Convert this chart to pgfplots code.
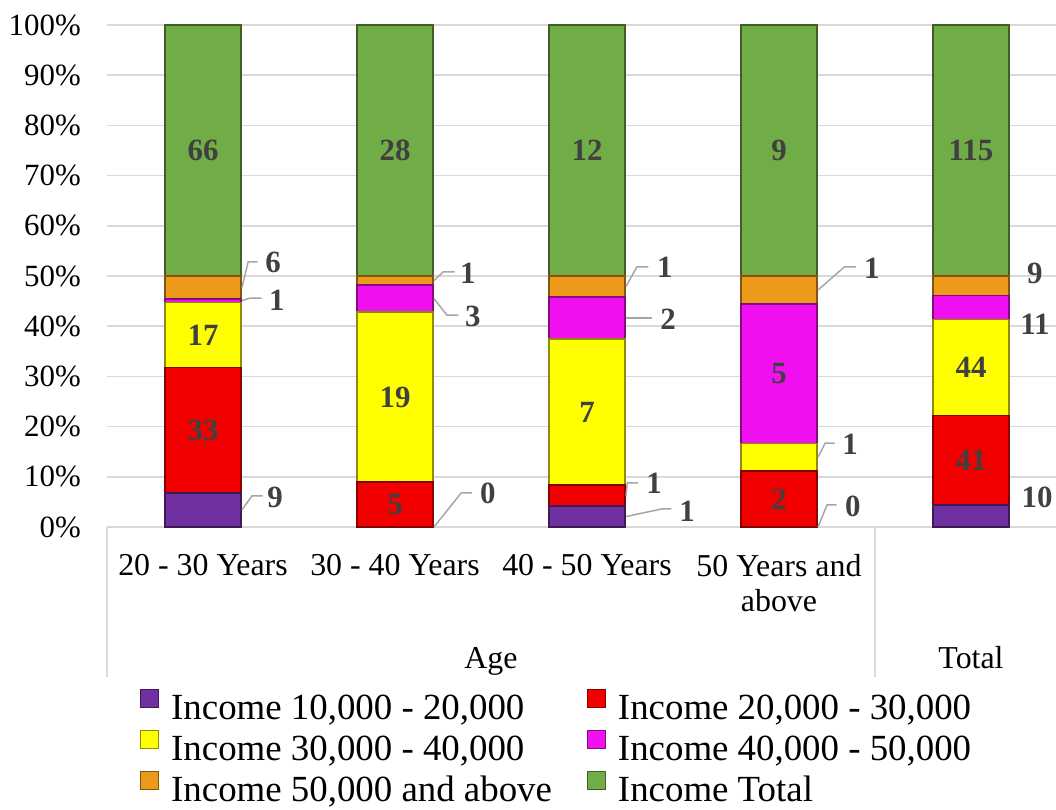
\documentclass[border=0pt]{standalone}
\usepackage{fontspec}
\setmainfont{Liberation Serif}
\usepackage{pgfplots}
\usepackage{pgfplotstable}
\pgfplotsset{compat=1.18}
\definecolor{cPur}{HTML}{7030A0}
\definecolor{cRed}{HTML}{F20000}
\definecolor{cYel}{HTML}{FFFF00}
\definecolor{cMag}{HTML}{F010F0}
\definecolor{cOra}{HTML}{ED9A1A}
\definecolor{cGre}{HTML}{70AD47}
\definecolor{gridgray}{HTML}{D9D9D9}
\definecolor{leadgray}{HTML}{A6A6A6}
\definecolor{labgray}{HTML}{404040}
\pgfplotstableread{
x a b c d e t
0 9 33 17 1 6 66
1 0 5 19 3 1 28
2 1 1 7 2 1 12
3 0 2 1 5 1 9
4 10 41 44 11 9 115
}\data
\pgfplotstableread{
x y lab
0 19.32 33
0 38.26 17
0 75 66
1 4.46 5
1 25.89 19
1 75 28
2 22.92 7
2 75 12
3 5.56 2
3 30.56 5
3 75 9
4 13.26 41
4 31.74 44
4 75 115
}\inlab
\pgfplotstableread{
x y lab
0.375 5.98 9
0.385 45.22 1
0.365 52.79 6
1.380 50.60 1
1.406 42.03 3
1.484 6.77 0
2.406 51.79 1
2.422 41.43 2
2.349 8.76 1
2.521 3.19 1
3.484 51.59 1
3.370 16.53 1
3.385 4.18 0
4.333 50.60 9
4.333 40.44 11
4.344 5.98 10
}\outlab
\pgfplotsset{
  mybar/.style={fill=#1, draw=#1!55!black, line width=1.5bp,
    legend image code/.code={\draw[fill=#1, draw=#1!55!black, line width=1bp] (0bp,2bp) rectangle (18bp,20bp);}},
}
\begin{document}
\begin{tikzpicture}
\begin{axis}[
  at={(0,0)}, anchor=south west,
  scale only axis, width=960bp, height=502bp,
  ybar stacked, bar width=76bp,
  xmin=-0.5, xmax=4.5, ymin=0, ymax=100,
  clip=false,
  axis line style={draw=none},
  tick style={draw=none},
  xtick={0,1,2,3},
  xticklabels={20 - 30 Years, 30 - 40 Years, 40 - 50 Years, {50 Years and\\above}},
  x tick label style={font=\fontsize{32}{35}\selectfont, align=center, anchor=north, inner sep=0pt, yshift=-27bp},
  ytick={0,10,...,100},
  yticklabel={\pgfmathprintnumber{\tick}\%},
  y tick label style={font=\fontsize{31}{37}\selectfont, anchor=east, inner sep=0pt, xshift=-26bp},
  /pgf/number format/assume math mode=true,
  ymajorgrids, grid style={color=gridgray, line width=1.5bp},
  legend columns=2,
  legend cell align=left,
  legend style={at={(0.0344,-0.3227)}, anchor=north west, draw=none, inner sep=0pt,
    font=\fontsize{37}{41}\selectfont,
    /tikz/every even column/.append style={column sep=23bp},
    nodes={text height=28bp, text depth=8bp, inner ysep=2.5bp, inner xsep=12bp}},
]
\addplot[mybar=cPur] table[x=x, y expr=\thisrow{a}/\thisrow{t}*50] \data;
\addlegendentry{Income 10,000 - 20,000}
\addplot[mybar=cRed] table[x=x, y expr=\thisrow{b}/\thisrow{t}*50] \data;
\addlegendentry{Income 20,000 - 30,000}
\addplot[mybar=cYel] table[x=x, y expr=\thisrow{c}/\thisrow{t}*50] \data;
\addlegendentry{Income 30,000 - 40,000}
\addplot[mybar=cMag] table[x=x, y expr=\thisrow{d}/\thisrow{t}*50] \data;
\addlegendentry{Income 40,000 - 50,000}
\addplot[mybar=cOra] table[x=x, y expr=\thisrow{e}/\thisrow{t}*50] \data;
\addlegendentry{Income 50,000 and above}
\addplot[mybar=cGre] table[x=x, y expr=\thisrow{t}/\thisrow{t}*50] \data;
\addlegendentry{Income Total}
\draw[gridgray, line width=1.5bp] (axis cs:-0.5,0) -- ([yshift=-150bp]axis cs:-0.5,0);
\draw[gridgray, line width=1.5bp] (axis cs:3.5,0) -- ([yshift=-150bp]axis cs:3.5,0);
\draw[gridgray, line width=1.5bp] (axis cs:4.5,0) -- ([yshift=-150bp]axis cs:4.5,0);
\node[font=\fontsize{32}{35}\selectfont, anchor=base, yshift=-141bp] at (axis cs:1.5,0) {Age};
\node[font=\fontsize{32}{35}\selectfont, anchor=base, yshift=-141bp] at (axis cs:4.0,0) {Total};
\end{axis}
\begin{axis}[
  at={(0,0)}, anchor=south west,
  scale only axis, width=960bp, height=502bp,
  xmin=-0.5, xmax=4.5, ymin=0, ymax=100,
  hide axis, clip=false,
]
\addplot[leadgray, line width=1.5bp, mark=none] coordinates {(0.203,3.41) (0.255,6.2) (0.31,6.2)};
\addplot[leadgray, line width=1.5bp, mark=none] coordinates {(0.203,45.08) (0.245,45.6) (0.305,45.6)};
\addplot[leadgray, line width=1.5bp, mark=none] coordinates {(0.203,47.7) (0.235,52.8) (0.285,52.8)};
\addplot[leadgray, line width=1.5bp, mark=none] coordinates {(1.203,49.1) (1.25,50.8) (1.31,50.8)};
\addplot[leadgray, line width=1.5bp, mark=none] coordinates {(1.203,45.5) (1.27,42.2) (1.33,42.2)};
\addplot[leadgray, line width=1.5bp, mark=none] coordinates {(1.203,0) (1.345,6.8) (1.40,6.8)};
\addplot[leadgray, line width=1.5bp, mark=none] coordinates {(2.203,47.9) (2.26,51.8) (2.32,51.8)};
\addplot[leadgray, line width=1.5bp, mark=none] coordinates {(2.203,41.67) (2.34,41.67)};
\addplot[leadgray, line width=1.5bp, mark=none] coordinates {(2.203,6.25) (2.21,8.8) (2.265,8.8)};
\addplot[leadgray, line width=1.5bp, mark=none] coordinates {(2.203,2.08) (2.39,3.6) (2.44,3.6)};
\addplot[leadgray, line width=1.5bp, mark=none] coordinates {(3.203,47.2) (3.34,51.8) (3.40,51.8)};
\addplot[leadgray, line width=1.5bp, mark=none] coordinates {(3.203,13.9) (3.24,16.7) (3.29,16.7)};
\addplot[leadgray, line width=1.5bp, mark=none] coordinates {(3.203,0) (3.25,4.4) (3.30,4.4)};
\addplot[only marks, mark=none, nodes near coords, point meta=explicit symbolic,
  every node near coord/.append style={anchor=center, font=\fontsize{31}{37}\selectfont\bfseries, text=labgray, inner sep=0pt}]
  table[x=x, y=y, meta=lab] \inlab;
\addplot[only marks, mark=none, nodes near coords, point meta=explicit symbolic,
  every node near coord/.append style={anchor=center, font=\fontsize{31}{37}\selectfont\bfseries, text=labgray, inner sep=0pt}]
  table[x=x, y=y, meta=lab] \outlab;
\end{axis}
\pgfresetboundingbox
\useasboundingbox (-107bp,-283bp) rectangle (949bp,527bp);
\end{tikzpicture}
\end{document}
